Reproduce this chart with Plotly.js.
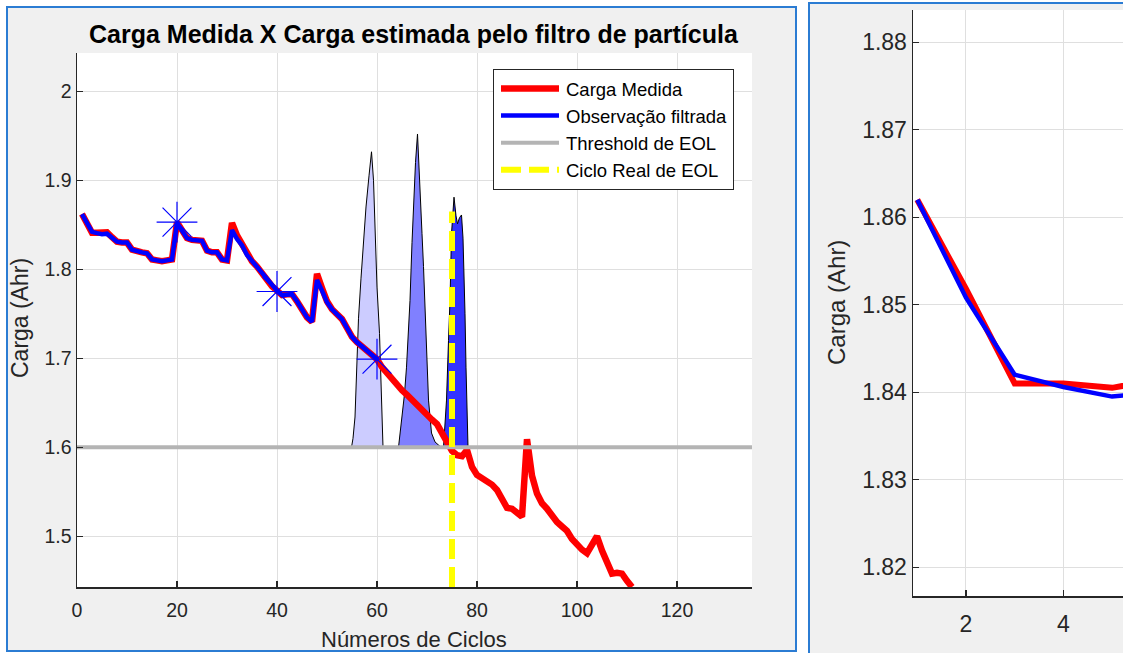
<!DOCTYPE html>
<html>
<head>
<meta charset="utf-8">
<script src="https://cdn.plot.ly/plotly-3.0.1.min.js"></script>
<style>
  html, body { margin: 0; padding: 0; background: #ffffff; }
  #chart { width: 1123px; height: 653px; }
</style>
</head>
<body>
<div id="chart"></div>
<script>
// ---------------- DATA ----------------
const cycles = [
  1,2,3,4,5,6,7,8,9,10,11,12,13,14,15,16,17,18,19,20,
  21,22,23,24,25,26,27,28,29,30,31,32,33,34,35,36,37,38,39,40,
  41,42,43,44,45,46,47,48,49,50,51,52,53,54,55,56,57,58,59,60,
  61,62,63,64,65,66,67,68,69,70,71,72,73,74,75,76,77,78,79,80,
  81,82,83,84,85,86,87,88,89,90,91,92,93,94,95,96,97,98,99,100,
  101,102,103,104,105,106,107,108,109,110,111
];
const cargaMedida = [
  1.862,1.8518,1.841,1.841,1.8405,1.8415,1.836,1.831,1.830,1.830,
  1.822,1.820,1.819,1.818,1.811,1.810,1.809,1.810,1.811,1.853,
  1.843,1.835,1.833,1.833,1.832,1.821,1.819,1.819,1.811,1.810,
  1.852,1.838,1.828,1.816,1.809,1.803,1.795,1.788,1.781,1.776,
  1.771,1.772,1.772,1.764,1.755,1.746,1.741,1.795,1.779,1.764,
  1.755,1.749,1.744,1.734,1.724,1.718,1.713,1.709,1.704,1.699,
  1.690,1.683,1.677,1.670,1.664,1.659,1.653,1.648,1.642,1.637,
  1.631,1.626,1.617,1.608,1.596,1.591,1.590,1.597,1.578,1.569,
  1.566,1.563,1.558,1.552,1.540,1.532,1.531,1.527,1.522,1.609,
  1.568,1.548,1.537,1.531,1.522,1.516,1.511,1.506,1.497,1.490,
  1.485,1.481,1.490,1.500,1.484,1.470,1.458,1.459,1.458,1.450,
  1.443
];
const cyclesFiltrados = [
  1,2,3,4,5,6,7,8,9,10,11,12,13,14,15,16,17,18,19,20,
  21,22,23,24,25,26,27,28,29,30,31,32,33,34,35,36,37,38,39,40,
  41,42,43,44,45,46,47,48,49,50,51,52,53,54,55,56,57,58,59,60
];
const observacaoFiltrada = [
  1.862,1.8508,1.842,1.8406,1.8395,1.8400,1.835,1.831,1.830,1.830,
  1.822,1.820,1.819,1.818,1.811,1.810,1.809,1.810,1.811,1.852,
  1.843,1.835,1.833,1.833,1.832,1.821,1.819,1.819,1.811,1.810,
  1.844,1.834,1.827,1.816,1.809,1.803,1.795,1.788,1.781,1.776,
  1.771,1.772,1.772,1.764,1.755,1.746,1.741,1.788,1.776,1.763,
  1.755,1.749,1.744,1.734,1.724,1.718,1.713,1.709,1.704,1.699
];
const marcadorCiclos = [20, 40, 60];
const marcadorCarga = [1.853, 1.775, 1.699];

const thresholdX = [0, 135];
const thresholdY = [1.6, 1.6];
const eolX = [75, 75];
const eolY = [1.443, 1.865];

// particle-filter EOL distributions (drawn on base 1.6)
const pdf1X = [54.9,55.2,55.6,55.9,56.1,56.3,56.8,57.3,57.8,58.4,58.9,59.3,59.6,60.0,60.5,60.8,60.9,61.1,61.2,54.9];
const pdf1Y = [1.600,1.610,1.634,1.680,1.720,1.745,1.790,1.829,1.870,1.905,1.932,1.900,1.840,1.780,1.728,1.680,1.640,1.620,1.600,1.600];
const pdf2X = [64.3,64.9,65.5,65.9,66.3,66.6,67.0,67.3,67.7,68.1,68.6,69.0,69.3,69.8,70.3,70.9,71.6,72.4,72.9,64.3];
const pdf2Y = [1.600,1.627,1.660,1.690,1.730,1.765,1.830,1.877,1.920,1.952,1.897,1.840,1.803,1.728,1.653,1.616,1.606,1.602,1.600,1.600];
const pdf3X = [73.3,73.9,74.3,74.6,74.9,75.4,75.8,76.1,76.5,76.9,77.2,77.4,77.6,77.8,78.0,78.2,73.3];
const pdf3Y = [1.600,1.653,1.720,1.765,1.840,1.881,1.860,1.851,1.858,1.861,1.835,1.803,1.750,1.690,1.640,1.600,1.600];

const xTicksMain = [0, 20, 40, 60, 80, 100, 120];
const yTicksMain = [1.5, 1.6, 1.7, 1.8, 1.9, 2.0];
const xTicksZoom = [2, 4];
const yTicksZoom = [1.82, 1.83, 1.84, 1.85, 1.86, 1.87, 1.88];

// ---------------- LAYOUT HELPERS ----------------
const W = 1123, H = 653;
const px = v => v / W;
const py = v => 1 - v / H;
const FONT = 'Liberation Sans, Arial, Helvetica, sans-serif';
const TXT = '#262626';

const traces = [
  {x: pdf1X, y: pdf1Y, mode: 'lines', fill: 'toself', fillcolor: '#ccccff',
   line: {color: '#000000', width: 1}, showlegend: false, hoverinfo: 'skip', xaxis: 'x', yaxis: 'y'},
  {x: pdf2X, y: pdf2Y, mode: 'lines', fill: 'toself', fillcolor: '#8080ff',
   line: {color: '#000000', width: 1}, showlegend: false, hoverinfo: 'skip', xaxis: 'x', yaxis: 'y'},
  {x: pdf3X, y: pdf3Y, mode: 'lines', fill: 'toself', fillcolor: '#3333ff',
   line: {color: '#000000', width: 1}, showlegend: false, hoverinfo: 'skip', xaxis: 'x', yaxis: 'y'},
  {x: cycles, y: cargaMedida, mode: 'lines', name: 'Carga Medida', legendrank: 1,
   line: {color: '#ff0000', width: 6.5}, xaxis: 'x', yaxis: 'y'},
  {x: cyclesFiltrados, y: observacaoFiltrada, mode: 'lines', name: 'Observação filtrada', legendrank: 2,
   line: {color: '#0000ff', width: 4.5}, xaxis: 'x', yaxis: 'y'},
  {x: marcadorCiclos, y: marcadorCarga, mode: 'markers', showlegend: false,
   marker: {symbol: 'asterisk-open', size: 34, color: '#0000ff', line: {color: '#0000ff', width: 1.2}},
   xaxis: 'x', yaxis: 'y'},
  {x: thresholdX, y: thresholdY, mode: 'lines', name: 'Threshold de EOL', legendrank: 3,
   line: {color: '#b4b4b4', width: 4}, xaxis: 'x', yaxis: 'y'},
  {x: eolX, y: eolY, mode: 'lines', name: 'Ciclo Real de EOL', legendrank: 4,
   line: {color: '#ffff00', width: 6, dash: '20px,8px'}, xaxis: 'x', yaxis: 'y'},
  // zoomed panel
  {x: cycles, y: cargaMedida, mode: 'lines', showlegend: false,
   line: {color: '#ff0000', width: 6}, xaxis: 'x2', yaxis: 'y2'},
  {x: cyclesFiltrados, y: observacaoFiltrada, mode: 'lines', showlegend: false,
   line: {color: '#0000ff', width: 4.5}, xaxis: 'x2', yaxis: 'y2'}
];

const axisCommon = {
  showgrid: true, gridcolor: '#dfdfdf', gridwidth: 1,
  showline: true, linecolor: TXT, linewidth: 1.5, mirror: false,
  ticks: 'inside', ticklen: 6, tickwidth: 1.2, tickcolor: TXT,
  zeroline: false, fixedrange: true
};

const layout = {
  width: W, height: H,
  margin: {l: 0, r: 0, t: 0, b: 0, pad: 0},
  paper_bgcolor: '#f0f0f0',
  plot_bgcolor: '#ffffff',
  font: {family: FONT, color: TXT},
  showlegend: true,
  legend: {
    x: px(493), y: py(69), xanchor: 'left', yanchor: 'top',
    bgcolor: '#ffffff', bordercolor: TXT, borderwidth: 1,
    font: {family: FONT, size: 18.5, color: '#000000'},
    itemwidth: 62, tracegroupgap: 0, traceorder: 'normal'
  },
  xaxis: Object.assign({}, axisCommon, {
    domain: [px(77), px(752)], range: [0, 135], anchor: 'y',
    tickvals: xTicksMain, ticklabelstandoff: 5,
    tickfont: {family: FONT, size: 19.5, color: TXT}
  }),
  yaxis: Object.assign({}, axisCommon, {
    domain: [py(587), py(53)], range: [1.443, 2.043], anchor: 'x',
    tickvals: yTicksMain, ticktext: yTicksMain.map(v => String(v)),
    tickfont: {family: FONT, size: 19.5, color: TXT}
  }),
  xaxis2: Object.assign({}, axisCommon, {
    domain: [px(913), 1], range: [0.912, 5.224], anchor: 'y2',
    tickvals: xTicksZoom, ticklabelstandoff: 7,
    tickfont: {family: FONT, size: 23, color: TXT}
  }),
  yaxis2: Object.assign({}, axisCommon, {
    domain: [py(596), py(10)], range: [1.8167, 1.8837], anchor: 'x2',
    tickvals: yTicksZoom, ticktext: yTicksZoom.map(v => v.toFixed(2)),
    tickfont: {family: FONT, size: 23, color: TXT}
  }),
  shapes: [
    // white surroundings outside the two figure windows
    {type: 'rect', xref: 'paper', yref: 'paper', x0: 0, x1: px(6), y0: 0, y1: 1, fillcolor: '#ffffff', line: {width: 0}, layer: 'below'},
    {type: 'rect', xref: 'paper', yref: 'paper', x0: 0, x1: px(797), y0: py(6), y1: 1, fillcolor: '#ffffff', line: {width: 0}, layer: 'below'},
    {type: 'rect', xref: 'paper', yref: 'paper', x0: 0, x1: px(797), y0: 0, y1: py(652), fillcolor: '#ffffff', line: {width: 0}, layer: 'below'},
    {type: 'rect', xref: 'paper', yref: 'paper', x0: px(797), x1: px(808), y0: 0, y1: 1, fillcolor: '#ffffff', line: {width: 0}, layer: 'below'},
    {type: 'rect', xref: 'paper', yref: 'paper', x0: px(808), x1: 1, y0: py(2), y1: 1, fillcolor: '#ffffff', line: {width: 0}, layer: 'below'},
    // window borders
    {type: 'rect', xref: 'paper', yref: 'paper', x0: px(7), x1: px(796), y0: py(651), y1: py(7), fillcolor: 'rgba(0,0,0,0)', line: {color: '#2b7cd3', width: 2}, layer: 'below'},
    {type: 'rect', xref: 'paper', yref: 'paper', x0: px(809), x1: px(1135), y0: py(665), y1: py(3), fillcolor: 'rgba(0,0,0,0)', line: {color: '#2b7cd3', width: 2}, layer: 'below'}
  ],
  annotations: [
    {text: '<b>Carga Medida X Carga estimada pelo filtro de partícula</b>', xref: 'paper', yref: 'paper',
     x: px(414), y: py(34), xanchor: 'center', yanchor: 'middle', showarrow: false,
     font: {family: FONT, size: 25, color: '#000000'}},
    {text: 'Números de Ciclos', xref: 'paper', yref: 'paper',
     x: px(414), y: py(639), xanchor: 'center', yanchor: 'middle', showarrow: false,
     font: {family: FONT, size: 22, color: TXT}},
    {text: 'Carga (Ahr)', xref: 'paper', yref: 'paper', textangle: -90,
     x: px(20), y: py(318), xanchor: 'center', yanchor: 'middle', showarrow: false,
     font: {family: FONT, size: 23, color: TXT}},
    {text: 'Carga (Ahr)', xref: 'paper', yref: 'paper', textangle: -90,
     x: px(836), y: py(303), xanchor: 'center', yanchor: 'middle', showarrow: false,
     font: {family: FONT, size: 24, color: TXT}}
  ],
  hovermode: false
};

Plotly.newPlot('chart', traces, layout, {displayModeBar: false, staticPlot: true}).then(function () {
  // lengthen legend line samples like MATLAB's legend
  document.querySelectorAll('.legend .legendlines path').forEach(function (p) {
    p.setAttribute('d', 'M7,0h58');
  });
});
</script>
</body>
</html>
